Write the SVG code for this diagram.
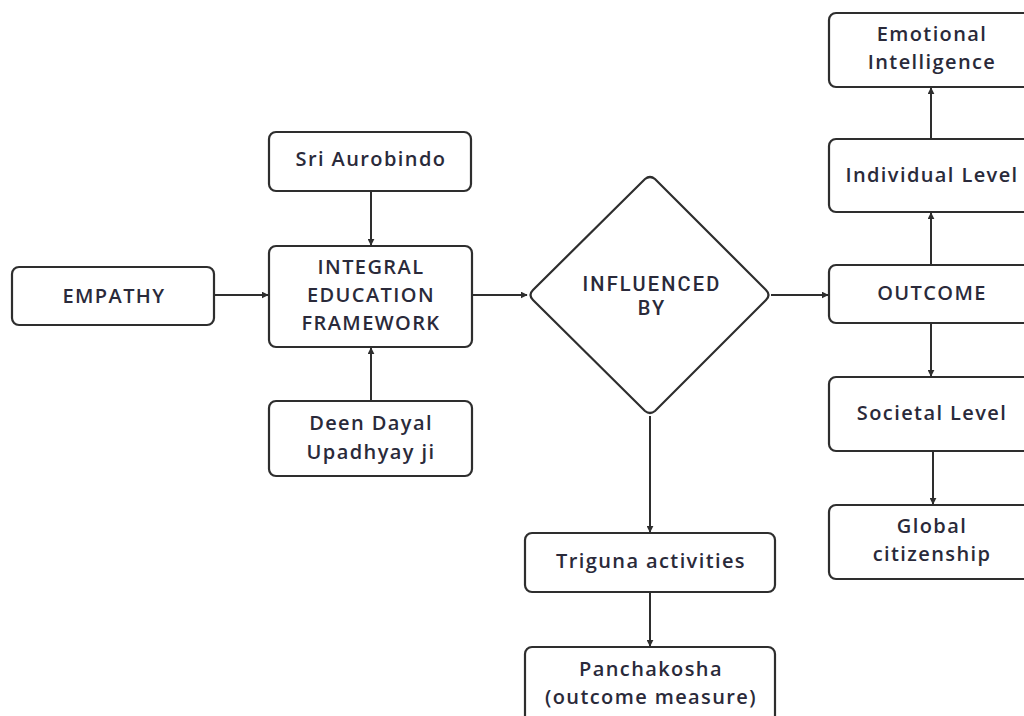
<svg xmlns="http://www.w3.org/2000/svg" width="1024" height="716" viewBox="0 0 1024 716">
<defs>
<style>
.box{fill:#fff;stroke:#2e2e2e;stroke-width:2.2}
.t{font-family:"Open Sans","Liberation Sans",sans-serif;font-size:20px;font-weight:600;fill:#2a2a3a;text-anchor:middle;letter-spacing:1.4px}
.d{font-family:Roboto,"Liberation Sans",sans-serif;font-size:20px;font-weight:500;fill:#2a2a3a;text-anchor:middle;letter-spacing:2.2px}
.c{stroke:#2e2e2e;stroke-width:2;fill:none;marker-end:url(#ah)}
</style>
<marker id="ah" viewBox="0 0 10 10" refX="9" refY="5" markerWidth="7" markerHeight="7" orient="auto" markerUnits="userSpaceOnUse">
<path d="M0,0 L10,5 L0,10 z" fill="#2e2e2e"/>
</marker>
</defs>
<rect width="1024" height="716" fill="#fff"/>
<g id="connectors">
<line class="c" x1="214" y1="295" x2="268" y2="295"/>
<line class="c" x1="371" y1="191" x2="371" y2="245"/>
<line class="c" x1="371" y1="401" x2="371" y2="348"/>
<line class="c" x1="472" y1="295" x2="527" y2="295"/>
<line class="c" x1="771" y1="295" x2="828" y2="295"/>
<line class="c" x1="650" y1="416" x2="650" y2="532"/>
<line class="c" x1="650" y1="592" x2="650" y2="646"/>
<line class="c" x1="931" y1="265" x2="931" y2="213"/>
<line class="c" x1="931" y1="139" x2="931" y2="88"/>
<line class="c" x1="931" y1="323" x2="931" y2="376"/>
<line class="c" x1="933" y1="451" x2="933" y2="504"/>
</g>
<g id="empathy">
<rect class="box" x="12" y="267" width="202" height="58" rx="7"/>
<text class="t" x="114" y="303">EMPATHY</text>
</g>
<g id="sri-aurobindo">
<rect class="box" x="269" y="132" width="202" height="59" rx="7"/>
<text class="t" x="371" y="166">Sri Aurobindo</text>
</g>
<g id="integral">
<rect class="box" x="269" y="246" width="203" height="101" rx="7"/>
<text class="t" x="371" y="274">INTEGRAL</text>
<text class="t" x="371" y="302">EDUCATION</text>
<text class="t" x="371" y="330">FRAMEWORK</text>
</g>
<g id="deen-dayal">
<rect class="box" x="269" y="401" width="203" height="75" rx="7"/>
<text class="t" x="371" y="430">Deen Dayal</text>
<text class="t" x="371" y="459">Upadhyay ji</text>
</g>
<g id="influenced-by">
<path class="box" d="M645,179 Q650,175 655,179 L766,290 Q771,295 766,300 L655,411 Q650,415 645,411 L533,300 Q528,295 533,290 Z"/>
<text class="d" x="652" y="291">INFLUENCED</text>
<text class="d" x="652" y="315">BY</text>
</g>
<g id="triguna">
<rect class="box" x="525" y="533" width="250" height="59" rx="7"/>
<text class="t" x="651" y="568">Triguna activities</text>
</g>
<g id="panchakosha">
<rect class="box" x="525" y="647" width="250" height="80" rx="7"/>
<text class="t" x="651" y="676">Panchakosha</text>
<text class="t" x="651" y="704">(outcome measure)</text>
</g>
<g id="emotional-intelligence">
<rect class="box" x="829" y="13" width="205" height="74" rx="7"/>
<text class="t" x="932" y="41">Emotional</text>
<text class="t" x="932" y="69">Intelligence</text>
</g>
<g id="individual-level">
<rect class="box" x="829" y="139" width="205" height="73" rx="7"/>
<text class="t" x="932" y="182">Individual Level</text>
</g>
<g id="outcome">
<rect class="box" x="829" y="265" width="205" height="58" rx="7"/>
<text class="t" x="932" y="300">OUTCOME</text>
</g>
<g id="societal-level">
<rect class="box" x="829" y="377" width="205" height="74" rx="7"/>
<text class="t" x="932" y="420">Societal Level</text>
</g>
<g id="global-citizenship">
<rect class="box" x="829" y="505" width="205" height="74" rx="7"/>
<text class="t" x="932" y="533">Global</text>
<text class="t" x="932" y="561">citizenship</text>
</g>
</svg>
